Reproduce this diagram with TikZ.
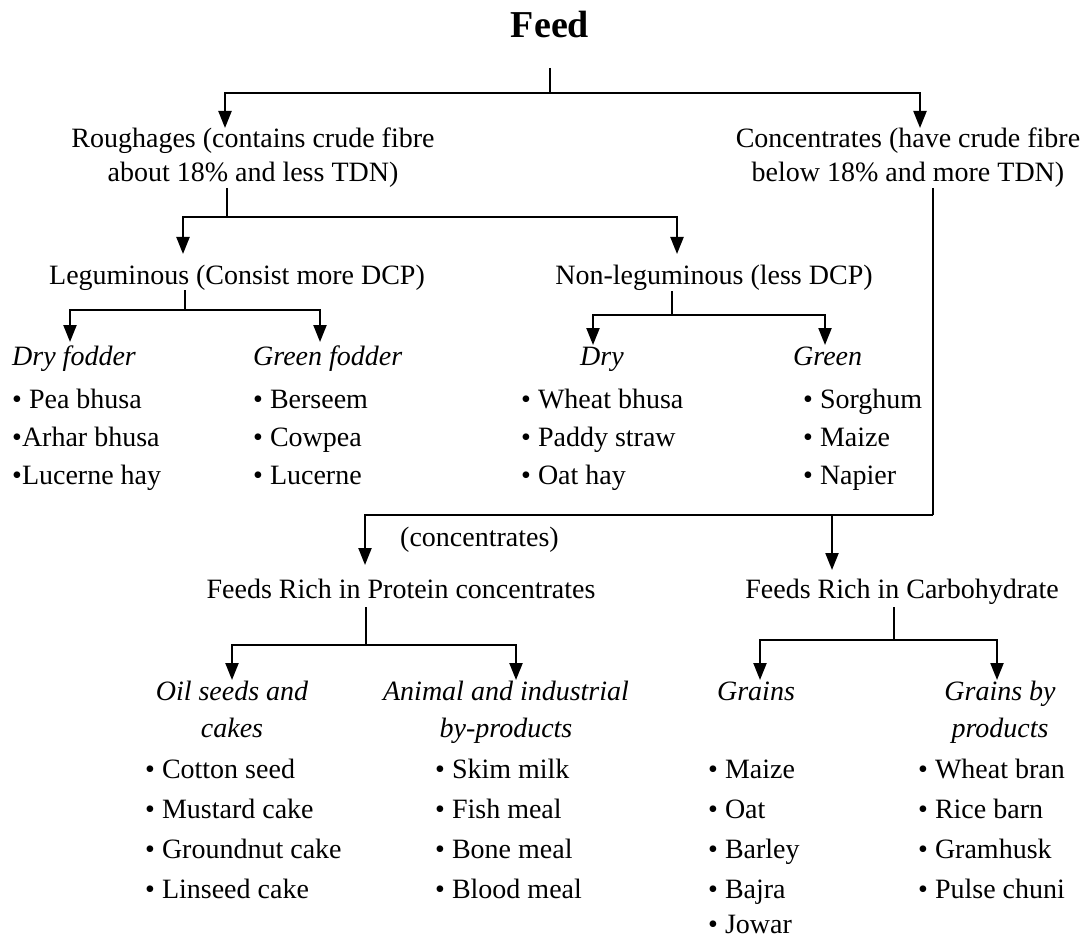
\documentclass[tikz,border=0pt]{standalone}
\usepackage{fontspec}
\setmainfont{Liberation Serif}
\usetikzlibrary{arrows.meta}
\tikzset{
  lbl/.style={inner sep=0pt, anchor=base, font=\fontsize{28}{34}\selectfont, align=center},
  ilbl/.style={lbl, font=\fontsize{28}{37}\selectfont\itshape},
  item/.style={inner sep=0pt, anchor=base west, font=\fontsize{28}{34}\selectfont},
  conn/.style={line width=2.2pt, draw=black},
  arr/.style={conn, -{Triangle[width=13pt,length=17pt]}},
}
\newcommand{\bul}{\textbullet\ }
\begin{document}
\begin{tikzpicture}[x=1pt,y=-1pt]
\useasboundingbox (0,0) rectangle (1091,941);
% title
\node[inner sep=0pt, anchor=base, font=\fontsize{38}{40}\selectfont\bfseries] (feed) at (550,38) {Feed};
% level 1
\node[lbl] (rough) at (253,182) {Roughages (contains crude fibre\\about 18\% and less TDN)};
\node[lbl] (conc) at (908,182) {Concentrates (have crude fibre\\below 18\% and more TDN)};
\coordinate (j0) at (550,93);
\coordinate (t0) at (550,68);
\coordinate (aR) at (225,128);
\coordinate (aC) at (920,128);
\draw[conn] (t0) -- (j0);
\draw[arr] (j0) -| (aR);
\draw[arr] (j0) -| (aC);
% level 2
\node[lbl] (leg) at (237,284) {Leguminous (Consist more DCP)};
\node[lbl] (nonleg) at (714,284) {Non-leguminous (less DCP)};
\coordinate (r0) at (227,188);
\coordinate (j1) at (227,217);
\coordinate (aL) at (183,254);
\coordinate (aN) at (677,254);
\draw[conn] (r0) -- (j1);
\draw[arr] (j1) -| (aL);
\draw[arr] (j1) -| (aN);
% level 3 leguminous
\node[ilbl, anchor=base west] (dryf) at (12,365) {Dry fodder};
\node[ilbl, anchor=base west] (greenf) at (253,365) {Green fodder};
\coordinate (l0) at (185,290);
\coordinate (j2) at (185,310);
\coordinate (aDF) at (70,342);
\coordinate (aGF) at (320,342);
\draw[conn] (l0) -- (j2);
\draw[arr] (j2) -| (aDF);
\draw[arr] (j2) -| (aGF);
\node[item] (i11) at (12,408) {\bul Pea bhusa};
\node[item] (i12) at (12,446) {\textbullet Arhar bhusa};
\node[item] (i13) at (12,484) {\textbullet Lucerne hay};
\node[item] (i21) at (253,408) {\bul Berseem};
\node[item] (i22) at (253,446) {\bul Cowpea};
\node[item] (i23) at (253,484) {\bul Lucerne};
% level 3 non-leguminous
\node[ilbl, anchor=base west] (dry) at (580,365) {Dry};
\node[ilbl, anchor=base west] (green) at (793,365) {Green};
\coordinate (n0) at (672,291);
\coordinate (j3) at (672,315);
\coordinate (aD) at (593,345);
\coordinate (aG) at (825,345);
\draw[conn] (n0) -- (j3);
\draw[arr] (j3) -| (aD);
\draw[arr] (j3) -| (aG);
\node[item] (i31) at (521,408) {\bul Wheat bhusa};
\node[item] (i32) at (521,446) {\bul Paddy straw};
\node[item] (i33) at (521,484) {\bul Oat hay};
\node[item] (i41) at (803,408) {\bul Sorghum};
\node[item] (i42) at (803,446) {\bul Maize};
\node[item] (i43) at (803,484) {\bul Napier};
% concentrates branch
\node[lbl, anchor=base west] (cnote) at (400,546) {(concentrates)};
\node[lbl] (prot) at (401,598) {Feeds Rich in Protein concentrates};
\node[lbl] (carb) at (902,598) {Feeds Rich in Carbohydrate};
\coordinate (c0) at (933,188);
\coordinate (j4) at (933,515);
\coordinate (aP) at (365,565);
\coordinate (k4) at (832,515);
\coordinate (aK) at (832,570);
\draw[conn] (c0) -- (j4);
\draw[arr] (j4) -| (aP);
\draw[arr] (k4) -- (aK);
% protein children
\node[ilbl] (oil) at (232,737) {Oil seeds and\\cakes};
\node[ilbl] (anim) at (506,737) {Animal and industrial\\by-products};
\coordinate (p0) at (366,607);
\coordinate (j5) at (366,645);
\coordinate (aO) at (232,680);
\coordinate (aA) at (516,680);
\draw[conn] (p0) -- (j5);
\draw[arr] (j5) -| (aO);
\draw[arr] (j5) -| (aA);
% carbohydrate children
\node[ilbl] (grains) at (756,700) {Grains};
\node[ilbl] (gbp) at (1000,737) {Grains by\\products};
\coordinate (q0) at (894,607);
\coordinate (j6) at (894,640);
\coordinate (aGr) at (760,680);
\coordinate (aGb) at (997,680);
\draw[conn] (q0) -- (j6);
\draw[arr] (j6) -| (aGr);
\draw[arr] (j6) -| (aGb);
% lists
\node[item] (o1) at (145,778) {\bul Cotton seed};
\node[item] (o2) at (145,818) {\bul Mustard cake};
\node[item] (o3) at (145,858) {\bul Groundnut cake};
\node[item] (o4) at (145,898) {\bul Linseed cake};
\node[item] (a1) at (435,778) {\bul Skim milk};
\node[item] (a2) at (435,818) {\bul Fish meal};
\node[item] (a3) at (435,858) {\bul Bone meal};
\node[item] (a4) at (435,898) {\bul Blood meal};
\node[item] (g1) at (708,778) {\bul Maize};
\node[item] (g2) at (708,818) {\bul Oat};
\node[item] (g3) at (708,858) {\bul Barley};
\node[item] (g4) at (708,898) {\bul Bajra};
\node[item] (g5) at (708,933) {\bul Jowar};
\node[item] (b1) at (918,778) {\bul Wheat bran};
\node[item] (b2) at (918,818) {\bul Rice barn};
\node[item] (b3) at (918,858) {\bul Gramhusk};
\node[item] (b4) at (918,898) {\bul Pulse chuni};
\end{tikzpicture}
\end{document}
